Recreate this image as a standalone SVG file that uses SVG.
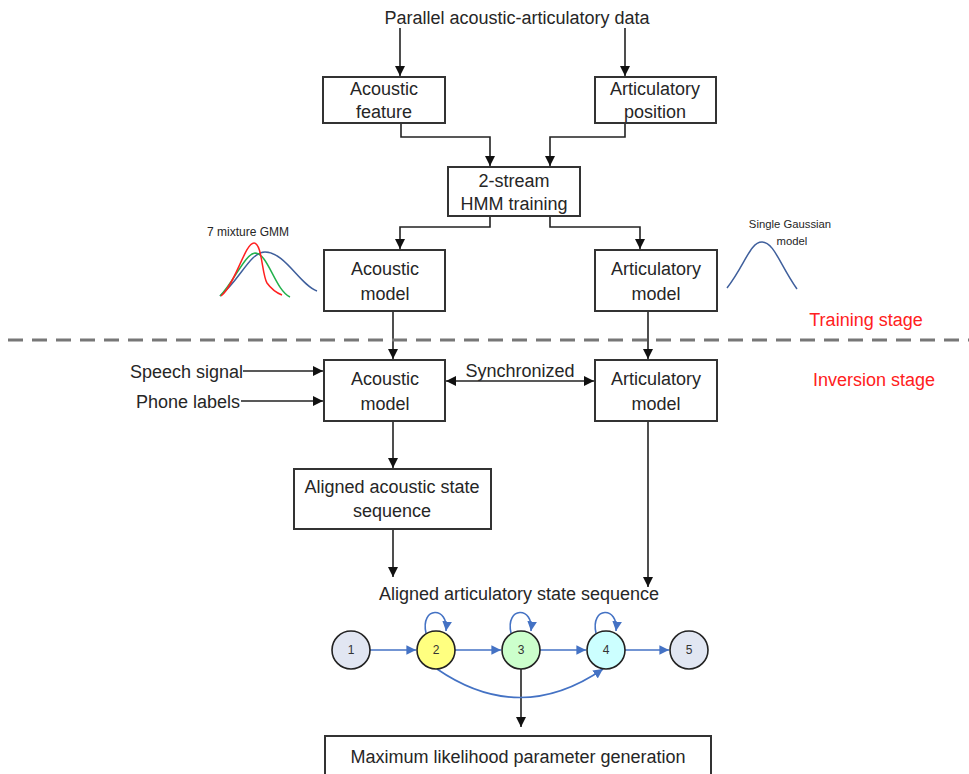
<svg xmlns="http://www.w3.org/2000/svg" width="969" height="774" viewBox="0 0 969 774">
<defs>
<style>
.t{font-family:"Liberation Sans",Arial,sans-serif;font-size:18px;fill:#262626;text-anchor:middle}
.e{text-anchor:end}
.sm{font-family:"Liberation Sans",Arial,sans-serif;font-size:11.3px;fill:#262626;text-anchor:middle}
.red{font-family:"Liberation Sans",Arial,sans-serif;font-size:18px;fill:#ff2020;text-anchor:middle}
.box{fill:#fff;stroke:#333;stroke-width:2}
.ln{fill:none;stroke:#222;stroke-width:1.6}
.bl{fill:none;stroke:#4472c4;stroke-width:1.6}
.st{stroke:#222;stroke-width:1.6}
.num{font-family:"Liberation Sans",Arial,sans-serif;font-size:12px;fill:#333;text-anchor:middle}
</style>
<marker id="ah" viewBox="0 0 10 10" refX="10" refY="5" markerWidth="6.5" markerHeight="6.5" orient="auto" markerUnits="strokeWidth">
<path d="M0,0 L10,5 L0,10 z" fill="#111"/>
</marker>
<marker id="ahs" viewBox="0 0 10 10" refX="0" refY="5" markerWidth="6.5" markerHeight="6.5" orient="auto" markerUnits="strokeWidth">
<path d="M10,0 L0,5 L10,10 z" fill="#111"/>
</marker>
<marker id="bh" viewBox="0 0 10 10" refX="10" refY="5" markerWidth="6" markerHeight="6" orient="auto" markerUnits="strokeWidth">
<path d="M0,0 L10,5 L0,10 z" fill="#4472c4"/>
</marker>
</defs>
<rect width="969" height="774" fill="#fff"/>

<g id="connectors">
<path class="ln" d="M400,28 V76" marker-end="url(#ah)"/>
<path class="ln" d="M625,28 V76" marker-end="url(#ah)"/>
<path class="ln" d="M401,123 V137 H490 V166" marker-end="url(#ah)"/>
<path class="ln" d="M625,123 V137 H550 V166" marker-end="url(#ah)"/>
<path class="ln" d="M490,216 V227 H400 V249" marker-end="url(#ah)"/>
<path class="ln" d="M550,216 V227 H640 V249" marker-end="url(#ah)"/>
<path class="ln" d="M393,311 V359" marker-end="url(#ah)"/>
<path class="ln" d="M648,311 V359" marker-end="url(#ah)"/>
<path class="ln" d="M243,371 H323" marker-end="url(#ah)"/>
<path class="ln" d="M241,401 H323" marker-end="url(#ah)"/>
<path class="ln" d="M446,381 H594" marker-start="url(#ahs)" marker-end="url(#ah)"/>
<path class="ln" d="M393,421 V468" marker-end="url(#ah)"/>
<path class="ln" d="M393,529 V577" marker-end="url(#ah)"/>
<path class="ln" d="M648,421 V587" marker-end="url(#ah)"/>
<path class="ln" d="M521,669 V727" marker-end="url(#ah)"/>
<path class="bl" d="M370,650 H416" marker-end="url(#bh)"/>
<path class="bl" d="M455,650 H501" marker-end="url(#bh)"/>
<path class="bl" d="M540,650 H586" marker-end="url(#bh)"/>
<path class="bl" d="M625,650 H669" marker-end="url(#bh)"/>
<path class="bl" d="M437,669 Q520,726 603,669" marker-end="url(#bh)"/>
<path class="bl" d="M426,633 C420,606 449,606 446,631" marker-end="url(#bh)"/>
<path class="bl" d="M511,633 C505,606 534,606 531,631" marker-end="url(#bh)"/>
<path class="bl" d="M596,633 C590,606 619,606 616,631" marker-end="url(#bh)"/>
</g>

<line x1="8" y1="340" x2="969" y2="340" stroke="#777" stroke-width="3" stroke-dasharray="15,9"/>

<text class="t" x="517" y="24">Parallel acoustic-articulatory data</text>

<g id="acoustic-feature"><rect class="box" x="323" y="77" width="122" height="46"/><text class="t" x="384" y="95">Acoustic</text><text class="t" x="384" y="118">feature</text></g>
<g id="articulatory-position"><rect class="box" x="595" y="77" width="121" height="46"/><text class="t" x="655" y="95">Articulatory</text><text class="t" x="655" y="118">position</text></g>
<g id="hmm-training"><rect class="box" x="448" y="167" width="132" height="49"/><text class="t" x="514" y="187">2-stream</text><text class="t" x="514" y="210">HMM training</text></g>
<g id="acoustic-model-train"><rect class="box" x="324" y="250" width="121" height="61"/><text class="t" x="385" y="275">Acoustic</text><text class="t" x="385" y="300">model</text></g>
<g id="articulatory-model-train"><rect class="box" x="595" y="250" width="122" height="61"/><text class="t" x="656" y="275">Articulatory</text><text class="t" x="656" y="300">model</text></g>

<g id="gmm">
<text class="sm" x="248" y="236" style="font-size:12px">7 mixture GMM</text>
<path d="M220,296 C240,280 250,252 265,252 C285,252 300,285 317,291" fill="none" stroke="#3f5f9c" stroke-width="1.5"/>
<path d="M220,296 C235,280 245,254 255,253 C268,253 275,290 290,297" fill="none" stroke="#22b14c" stroke-width="1.5"/>
<path d="M221,296 C235,285 245,243 254,243 C262,243 262,275 267,283 C272,290 277,293 282,295" fill="none" stroke="#ff2020" stroke-width="1.5"/>
</g>
<g id="single-gaussian">
<text class="sm" x="790" y="228">Single Gaussian</text>
<text class="sm" x="792" y="245">model</text>
<path d="M727,288 C745,265 750,242 762,242 C774,242 780,265 797,289" fill="none" stroke="#3f5f9c" stroke-width="1.5"/>
</g>

<text class="red" x="866" y="326">Training stage</text>
<text class="red" x="874" y="386">Inversion stage</text>

<text class="t e" x="243" y="378">Speech signal</text>
<text class="t e" x="240" y="408">Phone labels</text>
<text class="t" x="520" y="377">Synchronized</text>

<g id="acoustic-model-inv"><rect class="box" x="324" y="360" width="121" height="61"/><text class="t" x="385" y="385">Acoustic</text><text class="t" x="385" y="410">model</text></g>
<g id="articulatory-model-inv"><rect class="box" x="595" y="360" width="122" height="61"/><text class="t" x="656" y="385">Articulatory</text><text class="t" x="656" y="410">model</text></g>
<g id="aligned-acoustic"><rect class="box" x="294" y="469" width="197" height="60"/><text class="t" x="392" y="493">Aligned acoustic state</text><text class="t" x="392" y="517">sequence</text></g>

<text class="t" x="519" y="600">Aligned articulatory state sequence</text>

<g id="state1"><circle class="st" cx="351" cy="650" r="19" fill="#e1e6f2"/><text class="num" x="351" y="654">1</text></g>
<g id="state2"><circle class="st" cx="436" cy="650" r="19" fill="#ffff80"/><text class="num" x="436" y="654">2</text></g>
<g id="state3"><circle class="st" cx="521" cy="650" r="19" fill="#ccffcc"/><text class="num" x="521" y="654">3</text></g>
<g id="state4"><circle class="st" cx="606" cy="650" r="19" fill="#ccffff"/><text class="num" x="606" y="654">4</text></g>
<g id="state5"><circle class="st" cx="689" cy="650" r="19" fill="#e1e6f2"/><text class="num" x="689" y="654">5</text></g>

<g id="mlpg"><rect class="box" x="325" y="736" width="386" height="50"/><text class="t" x="518" y="763">Maximum likelihood parameter generation</text></g>
</svg>
